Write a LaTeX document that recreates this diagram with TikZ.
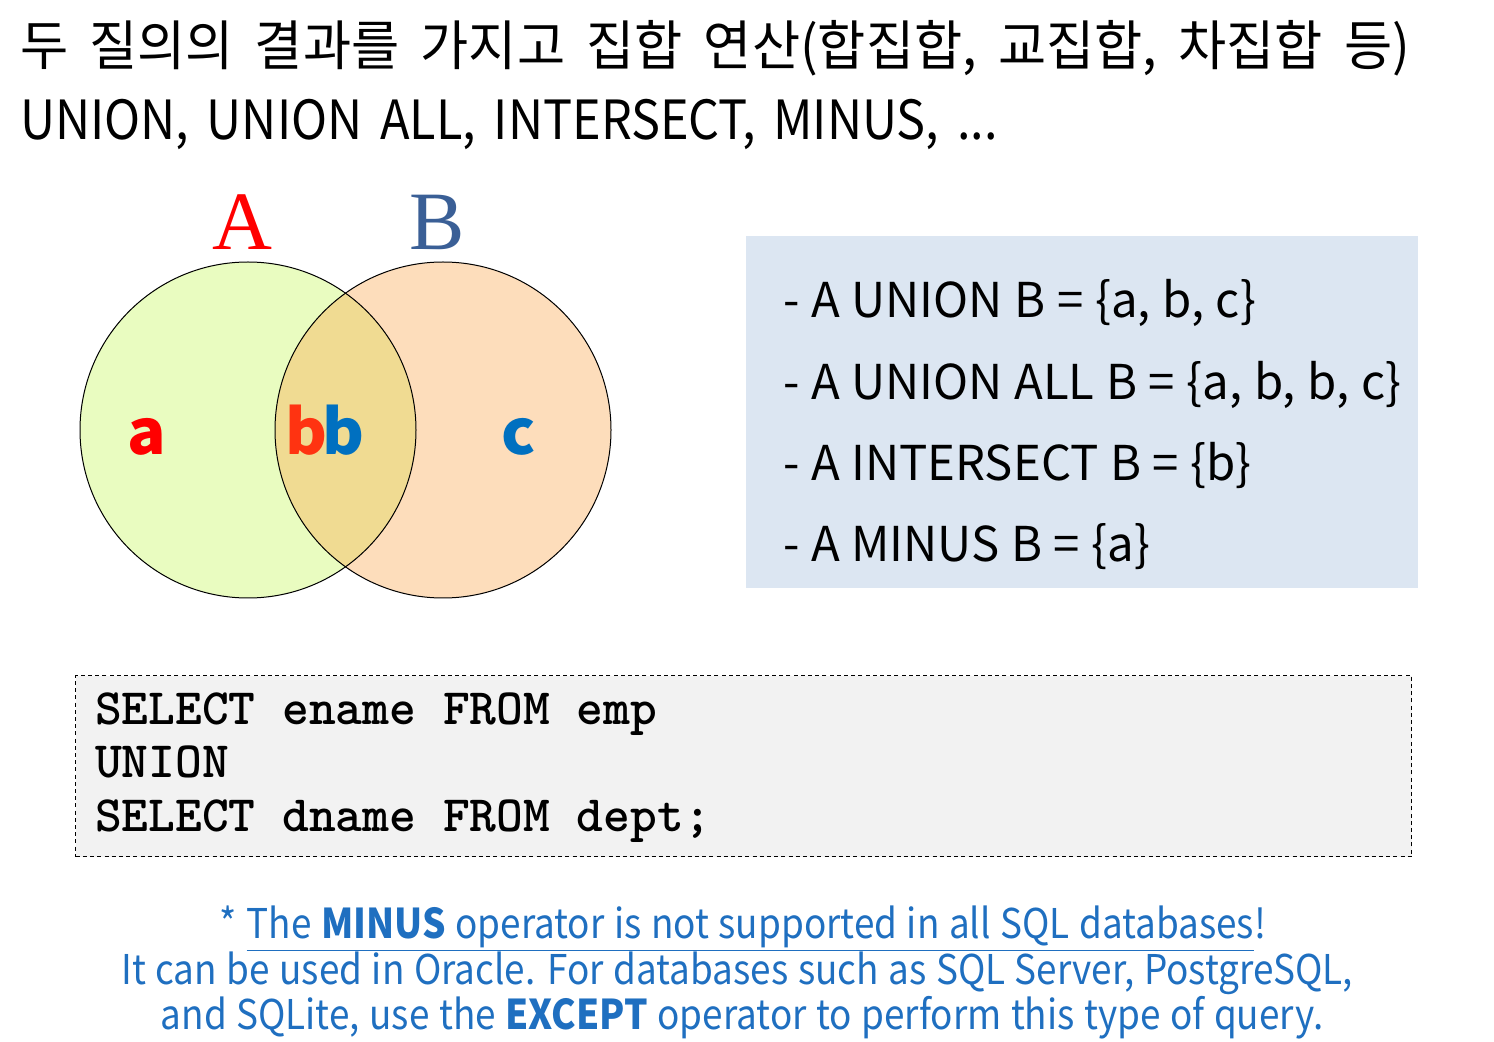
\documentclass[tikz,border=0pt]{standalone}
\usepackage{fontspec}
\newfontfamily\krfont{Noto Sans CJK KR}[FakeStretch=0.97, WordSpace=1.8]
\newfontfamily\latfont{Noto Sans CJK KR}[FakeStretch=0.9]
\newfontfamily\boxfont{Noto Sans CJK KR}[FakeStretch=0.985, WordSpace=1.1]
\newfontfamily\notefont{Noto Sans CJK KR}[FakeStretch=0.9, WordSpace=1.15]
\newfontfamily\elemfont{Noto Sans CJK KR}[FakeStretch=1.03]
\newfontfamily\serfont{Liberation Serif}
\definecolor{lgreen}{HTML}{E9FCC0}
\definecolor{lpeach}{HTML}{FDDDBB}
\definecolor{lmix}{HTML}{F0DB92}
\definecolor{boxblue}{HTML}{DCE6F2}
\definecolor{codegray}{HTML}{F2F2F2}
\definecolor{noteblue}{HTML}{1F6FC0}
\definecolor{bblue}{HTML}{0070C0}
\definecolor{bred}{HTML}{FF3311}
\definecolor{labB}{HTML}{3A5F96}
\tikzset{
  txt/.style={anchor=base west, inner sep=0pt, outer sep=0pt},
  title/.style={txt, font=\krfont\fontsize{27}{32}\selectfont},
  title2/.style={txt, font={\latfont\fontsize{27}{32}\selectfont\spaceskip=8.9pt plus 1pt}},
  setline/.style={txt, font=\boxfont\fontsize{24}{28}\selectfont},
  codeline/.style={txt, font=\ttfamily\bfseries\fontsize{25.5}{30}\selectfont},
  note/.style={anchor=base, inner sep=0pt, text=noteblue, font=\notefont\fontsize{20.5}{24}\selectfont},
  elem/.style={anchor=base, inner sep=0pt, font=\elemfont\bfseries\fontsize{31}{36}\selectfont},
  setlabel/.style={anchor=base, inner sep=0pt, font=\serfont\fontsize{41.5}{48}\selectfont},
  circ/.style={draw=black, line width=0.5pt},
}
\begin{document}
\begin{tikzpicture}[x=0.5pt,y=-0.5pt]
\useasboundingbox (0,0) rectangle (1494,1042);
% title
\node[title] (t1) at (20,66) {두 질의의 결과를 가지고 집합 연산(합집합, 교집합, 차집합 등)};
\node[title2] (t2) at (20,140) {UNION, UNION ALL, INTERSECT, MINUS, ...};
% venn
\coordinate (ca) at (248,430);
\coordinate (cb) at (443,430);
\fill[lgreen] (ca) circle[radius=168];
\fill[lpeach] (cb) circle[radius=168];
\begin{scope}
  \clip (ca) circle[radius=168];
  \fill[lmix] (cb) circle[radius=168];
\end{scope}
\draw[circ] (ca) circle[radius=168];
\draw[circ] (cb) circle[radius=168];
\node[setlabel, text=red] (labA) at (242,250) {A};
\node[setlabel, text=labB] (labBn) at (437,250) {B};
\node[elem, text=red] (ea) at (147,455) {a};
\node[elem, text=bred, anchor=base east] (eb1) at (328,455) {b};
\node[elem, text=bblue, anchor=base west] (eb2) at (322,455) {b};
\node[elem, text=bblue] (ec) at (519,455) {c};
% set box
\node[fill=boxblue, minimum width=336pt, minimum height=176pt, anchor=north west, inner sep=0pt] (setbox) at (746,236) {};
\node[setline] (s1) at (783,318) {- A UNION B = \{a, b, c\}};
\node[setline] (s2) at (783,400) {- A UNION ALL B = \{a, b, b, c\}};
\node[setline] (s3) at (783,481) {- A INTERSECT B = \{b\}};
\node[setline] (s4) at (783,562) {- A MINUS B = \{a\}};
% code box
\node[draw=black, dash pattern=on 2pt off 1.6pt, line width=0.7pt, fill=codegray, minimum width=668pt, minimum height=90.5pt, anchor=north west, inner sep=0pt] (code) at (75,675) {};
\node[codeline] (c1) at (95,724) {SELECT ename FROM emp};
\node[codeline] (c2) at (95,777) {UNION};
\node[codeline] (c3) at (95,831) {SELECT dname FROM dept;};
% note
\node[note] (n1) at (743,938) {* \underline{The \textbf{MINUS} operator is not supported in all SQL databases}!};
\node[note] (n2) at (737,984) {It can be used in Oracle. For databases such as SQL Server, PostgreSQL,};
\node[note] (n3) at (742,1029) {and SQLite, use the \textbf{EXCEPT} operator to perform this type of query.};
\end{tikzpicture}
\end{document}
